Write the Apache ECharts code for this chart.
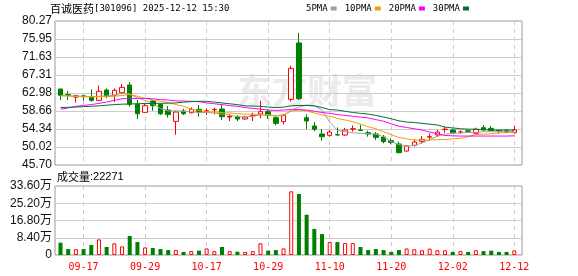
<!DOCTYPE html>
<html><head><meta charset="utf-8">
<script src="https://cdn.jsdelivr.net/npm/echarts@6/dist/echarts.min.js"></script>
<style>html,body{margin:0;padding:0;background:#fff}#c{width:578px;height:276px}</style>
</head><body><div id="c"></div>
<script>
const stockName = '百诚医药';
const stockCode = '[301096]';
const stamp = '2025-12-12 15:30';
const dates = ['09-12','09-15','09-16','09-17','09-18','09-19','09-22','09-23','09-24','09-25','09-26','09-29','09-30',
 '10-09','10-10','10-13','10-14','10-15','10-16','10-17','10-20','10-21','10-22','10-23','10-24','10-27','10-28','10-29','10-30','10-31',
 '11-03','11-04','11-05','11-06','11-07','11-10','11-11','11-12','11-13','11-14','11-17','11-18','11-19','11-20','11-21','11-24','11-25','11-26','11-27','11-28',
 '12-01','12-02','12-03','12-04','12-05','12-08','12-09','12-10','12-11','12-12'];
// open, close, low, high
const opens  = [63.94,62.60,62.00,62.30,61.95,61.22,63.70,62.43,63.06,64.90,60.26,58.34,61.06,60.26,58.90,56.18,58.66,58.26,59.06,58.60,
                58.95,59.14,57.20,57.30,56.74,57.50,57.94,58.50,57.06,56.10,61.46,75.00,57.06,55.06,53.14,52.82,52.98,52.90,54.30,54.10,
                53.46,53.14,52.42,51.54,50.74,49.05,50.41,51.37,52.40,52.90,54.20,54.10,53.60,53.90,53.30,54.66,54.50,54.00,53.90,53.46];
const closes = [62.42,62.40,62.34,62.10,61.22,63.38,62.26,63.62,64.34,60.26,58.00,59.94,59.94,58.00,57.80,58.42,58.02,59.06,58.34,58.74,
                59.06,57.30,57.35,56.74,57.22,57.60,58.50,57.54,55.70,57.62,68.90,61.62,56.26,54.26,52.50,53.62,52.90,54.10,54.40,54.00,
                53.14,52.34,51.30,51.14,48.66,50.25,51.21,51.85,52.50,53.62,54.30,53.46,53.65,53.80,54.26,54.10,54.00,53.90,53.50,54.10];
const lows   = [61.30,61.30,60.66,61.10,60.90,61.20,61.70,60.82,62.90,59.70,56.74,58.30,58.74,57.70,57.10,52.98,57.70,58.10,57.30,57.70,
                57.86,56.50,56.26,56.26,56.50,56.26,56.90,56.74,55.22,55.46,60.90,61.30,54.26,53.80,51.54,52.50,52.82,52.70,53.70,53.90,
                52.50,51.70,50.90,50.70,48.50,48.90,50.10,50.90,51.50,52.50,53.46,53.30,53.20,53.40,53.10,54.00,53.80,53.20,53.30,53.30];
const highs  = [63.94,63.46,62.55,62.50,63.86,64.80,64.10,64.10,65.14,65.62,61.30,60.40,61.30,60.50,59.86,58.60,59.20,59.54,60.10,59.30,
                59.46,60.10,57.86,57.70,57.50,58.26,61.14,59.06,57.46,57.94,69.54,77.40,57.86,56.00,54.34,54.10,54.74,54.60,55.20,55.30,
                53.94,53.60,52.90,52.10,51.30,50.40,51.90,52.65,53.30,54.10,54.90,54.40,54.00,54.20,54.66,55.30,55.06,54.10,54.26,55.14];
const volumes = [60000,29000,28000,29000,49000,76000,39000,57000,42000,92500,63000,37000,34000,29000,24000,24000,15000,19000,21000,32000,
                 19000,39000,19000,16000,15000,19000,57000,21000,24000,32000,310000,297000,196000,127000,102000,63000,63000,58000,58000,39000,
                 24000,29000,24000,15000,24000,32000,28000,23000,31000,23000,23000,15000,19000,15000,23000,19000,21000,15000,15000,22271];
const ma5  = [62.4,62.3,62.2,62.1,62.1,62.2,62.3,62.5,62.9,62.8,61.8,61.2,60.4,59.3,58.7,58.7,58.6,58.5,58.3,58.3,
              58.2,57.9,57.7,57.3,57.2,57.4,57.7,57.8,57.5,57.5,58.9,59.6,60.1,59.9,58.9,56.0,54.0,53.7,53.4,53.3,
              53.2,53.1,52.5,51.3,50.6,50.2,50.4,51.0,51.8,52.6,53.1,53.3,53.4,53.5,53.5,53.7,53.7,53.7,53.7,53.7];
const ma10 = [62.3,62.25,62.2,62.1,62.1,62.1,62.1,62.2,62.4,62.6,62.2,61.7,61.3,61.0,60.7,60.2,59.8,59.1,58.8,58.5,
              58.4,58.3,58.2,58.0,57.9,57.9,57.8,57.6,57.5,57.8,58.6,58.9,58.7,58.2,57.7,57.4,56.9,56.5,56.1,55.5,
              54.9,54.4,53.7,53.0,52.3,52.0,51.7,51.7,51.7,51.8,51.8,52.0,52.1,52.5,53.0,53.1,53.2,53.4,53.5,53.5];
const ma20 = [59.1,59.4,59.8,60.0,60.2,60.5,60.8,61.2,61.6,61.7,61.7,61.7,61.6,61.4,61.3,61.1,61.05,61.0,60.9,60.6,
              60.4,60.2,59.95,59.8,59.5,59.3,59.1,58.9,58.8,58.9,59.0,59.0,58.9,58.6,58.3,58.1,57.8,57.6,57.4,57.2,
              57.0,56.6,56.2,55.6,55.0,54.7,54.4,54.1,53.6,53.2,52.8,52.7,52.65,52.65,52.65,52.65,52.65,52.65,52.65,52.7];
const ma30 = [59.5,59.55,59.6,59.7,59.8,59.9,60.05,60.2,60.3,60.35,60.4,60.45,60.5,60.5,60.55,60.6,60.8,60.9,61.0,61.0,
              60.8,60.6,60.4,60.2,59.9,59.85,59.8,59.6,59.5,59.6,59.9,60.0,60.0,59.9,59.5,59.0,58.9,58.6,58.3,58.1,
              57.9,57.6,57.2,56.8,56.3,56.0,55.9,55.7,55.5,55.3,54.8,54.6,54.4,54.3,54.3,54.2,54.1,54.1,54.1,54.1];
const maNames = ['5PMA','10PMA','20PMA','30PMA'];
const priceTicks = ['45.70','50.02','54.34','58.66','62.98','67.31','71.63','75.95','80.27'];
const volTicks = ['0','8.40万','16.80万','25.20万','33.60万'];
const PMIN = 45.70, PMAX = 80.27, PSTEP = (PMAX - PMIN) / 8;
const VMAX = 336000, VSTEP = 84000;

const UP = '#ff0000', DOWN = '#008000';
const maColors = ['#a0a0a0', '#f0a000', '#ff00ff', '#006f2f'];
const ohlc = dates.map((d, i) => [opens[i], closes[i], lows[i], highs[i]]);
function sign(i) {
  if (closes[i] > opens[i]) return 1;
  if (closes[i] < opens[i]) return -1;
  return i > 0 && closes[i] < closes[i - 1] ? -1 : 1;
}
const volData = volumes.map((v, i) => ({
  value: v,
  itemStyle: sign(i) > 0 ? { color: '#fff', borderColor: UP, borderWidth: 1 } : { color: DOWN, borderColor: DOWN, borderWidth: 0 }
}));
const labelEvery = (idx) => (idx - 3) % 8 === 0;

const chart = echarts.init(document.getElementById('c'), null, { renderer: 'canvas' });
const dataL = 60.5, dataR = 578 - 514.3;
const frameL = 55, frameR = 578 - 522;
chart.setOption({
  animation: false,
  backgroundColor: '#fff',
  legend: {
    data: maNames, left: 306, top: 4, align: 'right', icon: 'rect', itemWidth: 6, itemHeight: 4, itemGap: 8, padding: 0,
    textStyle: { fontFamily: 'DejaVu Sans Mono', fontSize: 9, color: '#000', padding: [0, -2, 0, 0] }
  },
  graphic: [
    { type: 'text', left: 50, top: 3, z: 10, style: { rich: {
        a: { font: '11px "Noto Sans CJK SC"', fill: '#000' },
        b: { font: '9px "DejaVu Sans Mono"', fill: '#000' } },
        text: '{a|' + stockName + '}{b|' + stockCode + ' ' + stamp + '}' } },
    { type: 'text', left: 57, top: 171, z: 10, style: { rich: {
        a: { font: '11px "Noto Sans CJK SC"', fill: '#000' },
        b: { font: '11px "Liberation Sans"', fill: '#000' } },
        text: '{a|成交量}{b|:' + volumes[volumes.length - 1] + '}' } },
    { type: 'text', left: 237, top: 73, z: 0, silent: true,
      style: { text: '东方财富', font: 'bold 35px "Noto Sans CJK SC"', fill: '#ebebeb' } }
  ],
  grid: [
    { left: dataL, right: dataR, top: 21, height: 144 },
    { left: dataL, right: dataR, top: 186, height: 69 },
    { left: frameL, right: frameR, top: 21, height: 144, show: true, borderColor: '#999', borderWidth: 1, backgroundColor: 'transparent' },
    { left: frameL, right: frameR, top: 186, height: 69, show: true, borderColor: '#999', borderWidth: 1, backgroundColor: 'transparent' }
  ],
  xAxis: [
    { gridIndex: 0, type: 'category', data: dates, boundaryGap: false,
      axisLine: { show: false }, axisTick: { show: false }, axisLabel: { show: false },
      splitLine: { show: true, interval: labelEvery, lineStyle: { color: '#cccccc', type: [4, 4], width: 1 } } },
    { gridIndex: 1, type: 'category', data: dates, boundaryGap: false,
      axisLine: { show: false }, axisTick: { show: false },
      axisLabel: { show: true, interval: labelEvery, color: '#ff0000', fontFamily: 'DejaVu Sans Mono', fontSize: 10, margin: 7 },
      splitLine: { show: true, interval: labelEvery, lineStyle: { color: '#cccccc', type: [4, 4], width: 1 } } },
    { gridIndex: 2, type: 'value', min: 0, max: 1, show: false },
    { gridIndex: 3, type: 'value', min: 0, max: 1, show: false }
  ],
  yAxis: [
    { gridIndex: 0, type: 'value', min: PMIN, max: PMAX, show: false },
    { gridIndex: 1, type: 'value', min: 0, max: VMAX, show: false },
    { gridIndex: 2, type: 'value', min: PMIN, max: PMAX, interval: PSTEP,
      axisLine: { show: false }, axisTick: { show: false },
      axisLabel: { showMinLabel: true, showMaxLabel: true, margin: 3, color: '#111', fontFamily: 'Liberation Sans', fontSize: 12,
        formatter: (v) => priceTicks[Math.round((v - PMIN) / PSTEP)] },
      splitLine: { show: true, lineStyle: { color: '#cccccc', width: 1 } } },
    { gridIndex: 3, type: 'value', min: 0, max: VMAX, interval: VSTEP,
      axisLine: { show: false }, axisTick: { show: false },
      axisLabel: { showMinLabel: true, showMaxLabel: true, margin: 3, color: '#111', fontFamily: 'Liberation Sans, "Noto Sans CJK SC"', fontSize: 12,
        formatter: (v) => volTicks[Math.round(v / VSTEP)] },
      splitLine: { show: true, lineStyle: { color: '#cccccc', width: 1 } } }
  ],
  series: [
    { type: 'candlestick', xAxisIndex: 0, yAxisIndex: 0, data: ohlc, barWidth: 5, clip: false,
      itemStyle: { color: '#fff', color0: DOWN, borderColor: UP, borderColor0: DOWN, borderWidth: 1 } },
    ...[ma5, ma10, ma20, ma30].map((arr, k) => ({
      name: maNames[k], type: 'line', xAxisIndex: 0, yAxisIndex: 0, data: arr, showSymbol: false, symbol: 'none',
      color: maColors[k], lineStyle: { width: 1, color: maColors[k] }, z: 3
    })),
    { type: 'bar', xAxisIndex: 1, yAxisIndex: 1, data: volData, barWidth: 4, clip: false }
  ]
});
</script></body></html>
